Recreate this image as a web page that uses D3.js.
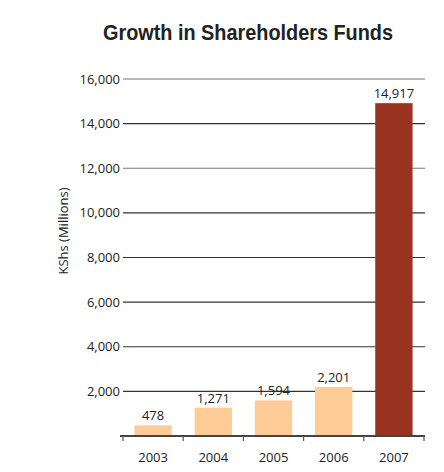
<!DOCTYPE html>
<html>
<head>
<meta charset="utf-8">
<script src="https://cdn.jsdelivr.net/npm/d3@7"></script>
<style>
  body { margin: 0; background: #fff; }
  text { font-family: "Open Sans", "Noto Sans", sans-serif; }
</style>
</head>
<body>
<div id="chart-area"></div>
<script>
// chart data
const years = ["2003", "2004", "2005", "2006", "2007"];
const funds = [478, 1271, 1594, 2201, 14917];
const yTicks = [2000, 4000, 6000, 8000, 10000, 12000, 14000, 16000];

const width = 444;
const height = 472;
const margin = { top: 79, right: 20, bottom: 36, left: 123 };

const svg = d3.select("#chart-area")
    .append("svg")
    .attr("width", width)
    .attr("height", height);

const x = d3.scaleBand()
    .domain(years)
    .range([margin.left, width - margin.right])
    .paddingInner(0.38)
    .paddingOuter(0.19);

const y = d3.scaleLinear()
    .domain([0, 16000])
    .range([height - margin.bottom, margin.top]);

// title - squeezed a bit to look like the condensed face in the original
svg.append("text")
    .attr("x", 103)
    .attr("y", 40)
    .attr("textLength", 290)
    .attr("lengthAdjust", "spacingAndGlyphs")
    .style("font-family", "'Liberation Sans', Arial, sans-serif")
    .style("font-weight", "bold")
    .style("font-size", "22px")
    .attr("fill", "#222")
    .text("Growth in Shareholders Funds");

// gridlines + tick labels
const grid = svg.append("g");
grid.selectAll("line")
    .data(yTicks)
    .join("line")
    .attr("x1", margin.left)
    .attr("x2", width - margin.right + 1)
    .attr("y1", d => y(d))
    .attr("y2", d => y(d))
    .attr("stroke", d => d >= 12000 && d != 14000 ? "#777" : "#333")
    .attr("stroke-width", 1.2);

grid.selectAll("text")
    .data(yTicks)
    .join("text")
    .attr("x", margin.left - 3)
    .attr("y", d => y(d))
    .attr("dy", "0.35em")
    .attr("text-anchor", "end")
    .style("font-size", "13px")
    .attr("fill", "#222")
    .text(d => d3.format(",")(d));

// y axis title
svg.append("text")
    .attr("transform", "translate(68, 231) rotate(-90)")
    .attr("text-anchor", "middle")
    .style("font-size", "13px")
    .attr("fill", "#222")
    .text("KShs  (Millions)");

// bars
svg.append("g")
    .selectAll("rect")
    .data(funds)
    .join("rect")
    .attr("x", (d, i) => x(years[i]))
    .attr("y", d => y(d))
    .attr("width", x.bandwidth())
    .attr("height", d => y(0) - y(d))
    .attr("fill", (d, i) => i == years.length - 1 ? "#993421" : "#FDCB96");

// value labels
svg.append("g")
    .selectAll("text")
    .data(funds)
    .join("text")
    .attr("x", (d, i) => x(years[i]) + x.bandwidth() / 2)
    .attr("y", d => y(d) - 5)
    .attr("text-anchor", "middle")
    .style("font-size", "13px")
    .attr("fill", "#222")
    .text(d => d3.format(",")(d));

// bottom axis
const step = x.step();
const tickXs = d3.range(years.length + 1).map(i => margin.left + i * step);
const axis = svg.append("g");
axis.append("line")
    .attr("x1", margin.left - 3)
    .attr("x2", width - margin.right + 1)
    .attr("y1", y(0))
    .attr("y2", y(0))
    .attr("stroke", "#444")
    .attr("stroke-width", 1.8);

axis.selectAll(".tick")
    .data(tickXs)
    .join("line")
    .attr("class", "tick")
    .attr("x1", d => d)
    .attr("x2", d => d)
    .attr("y1", y(0))
    .attr("y2", y(0) + 5)
    .attr("stroke", "#555")
    .attr("stroke-width", 1.2);

axis.selectAll(".year")
    .data(years)
    .join("text")
    .attr("class", "year")
    .attr("x", d => x(d) + x.bandwidth() / 2)
    .attr("y", y(0) + 26)
    .attr("text-anchor", "middle")
    .style("font-size", "13px")
    .attr("fill", "#222")
    .text(d => d);
</script>
</body>
</html>
